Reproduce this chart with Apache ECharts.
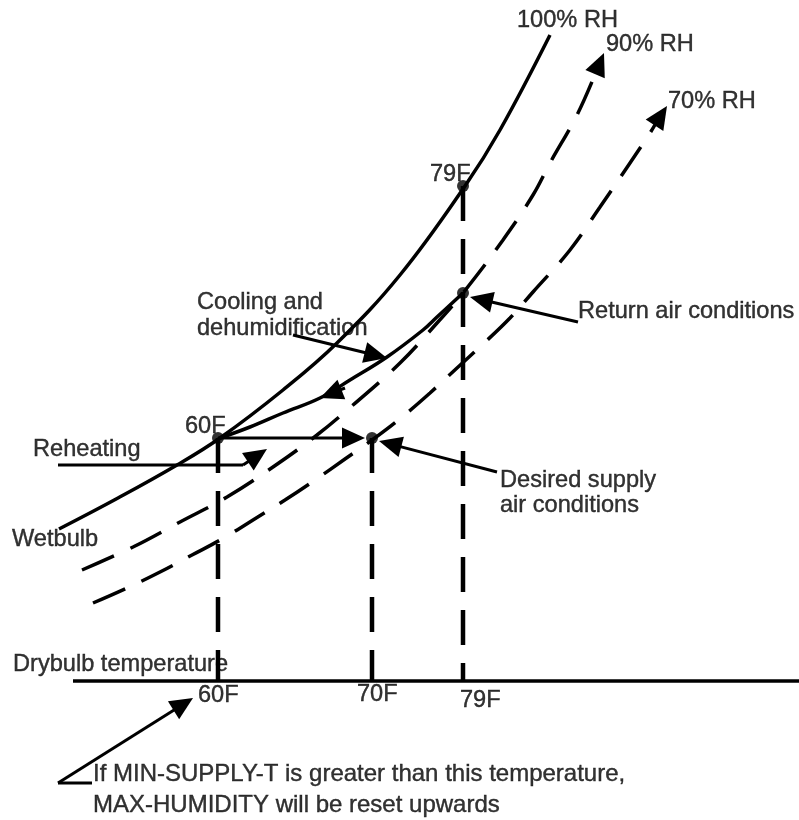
<!DOCTYPE html>
<html>
<head>
<meta charset="utf-8">
<script src="https://cdn.jsdelivr.net/npm/echarts@6/dist/echarts.min.js"></script>
<style>
body { margin: 0; background: #fff; }
#chart { width: 799px; height: 820px; }
</style>
</head>
<body>
<div id="chart"></div>
<script>
// diagram units = reference pixels (x right, y down)
var pts100 = [[59,529],[118,498],[177,465],[220,438],[283,390],[337,343],[400,275],[465,186],[500,130],[550,35]]
var pts90 = [[82,570],[133,547],[180,522],[227,497],[273,467],[317,435],[353,405],[400,363],[437,323],[463,293],[503,240],[533,195],[550,163],[577,115],[596,72]]
var pts70 = [[93,603],[127,588],[160,572],[192,555],[222,539],[253,520],[285,500],[315,480],[345,459],[372,440],[402,417],[430,393],[457,368],[482,345],[510,318],[533,292],[570,250],[600,207],[630,163],[650,133],[656,123]]
var coolPath = [[463,293],[437,317],[423,330],[387,357],[350,380],[320,398],[283,413],[250,427],[220,438]]

var statePoints = [[218,438],[463,186],[463,293],[372,438]]
var dropLines = [
    [[218,438],[218,681]],
    [[372,438],[372,681]],
    [[463,186],[463,681]]
]
var axisLine = [[73,681],[799,681]]
var reheatLeg = [[58,465],[243,465]]
var noteLeg = [[92,783],[58,783]]

// [fromX, fromY, tipX, tipY]
var arrows = [
    [596,72,604,53],
    [656,123,667,106],
    [293,335,387,358],
    [345,388,320,398],
    [218,438,365,438],
    [497,472,379,441],
    [578,322,470,297],
    [243,465,267,449],
    [58,783,193,698]
]

var labelText = ['100% RH','90% RH','70% RH','79F','Cooling and','dehumidification','Return air conditions','60F','Reheating','Wetbulb','Desired supply','air conditions','Drybulb temperature']
var labelPos = [[517,20],[606,44],[668,101],[430,174],[197,302],[197,328],[578,311],[185,426],[33,449],[12,539],[500,480],[500,505],[13,664]]
var tickText = ['60F','70F','79F']
var tickPos = [[198,695],[357,694],[460,700]]
var noteText = ['If MIN-SUPPLY-T is greater than this temperature,','MAX-HUMIDITY will be reset upwards']
var notePos = [[93,774],[93,805]]

var font = '"Liberation Sans", Arial, sans-serif'

function textData(texts, pos) {
    return texts.map(function (t, i) {
        return { name: t, value: pos[i] }
    })
}

function lineSeries(data, width, dash, smooth) {
    return {
        type: 'line',
        data: data,
        smooth: smooth || false,
        symbol: 'none',
        silent: true,
        lineStyle: { color: '#000', width: width, type: dash || 'solid', cap: 'butt' },
        z: 2
    }
}

function renderArrow(params, api) {
    var p0 = api.coord([api.value(0), api.value(1)])
    var p1 = api.coord([api.value(2), api.value(3)])
    var dx = p1[0] - p0[0], dy = p1[1] - p0[1]
    var d = Math.sqrt(dx * dx + dy * dy) || 1
    var ux = dx / d, uy = dy / d
    var L = 23, W = 10.5
    var bx = p1[0] - ux * L, by = p1[1] - uy * L
    var children = [{
        type: 'polygon',
        shape: { points: [p1, [bx - uy * W, by + ux * W], [bx + uy * W, by - ux * W]] },
        style: { fill: '#000' }
    }]
    if (d > L) {
        children.push({
            type: 'line',
            shape: { x1: p0[0], y1: p0[1], x2: bx + ux * 2, y2: by + uy * 2 },
            style: { stroke: '#000', lineWidth: 3 }
        })
    }
    return { type: 'group', children: children }
}

function textLabel(size) {
    return {
        show: true,
        position: 'inside',
        align: 'left',
        verticalAlign: 'middle',
        formatter: '{b}',
        color: '#000',
        textBorderColor: '#000',
        textBorderWidth: 0.4,
        fontSize: size,
        fontFamily: font
    }
}

function textSeries(data, size) {
    return {
        type: 'scatter',
        data: data,
        symbolSize: 1,
        silent: true,
        itemStyle: { color: 'transparent' },
        label: textLabel(size),
        z: 5
    }
}

var option = {
    animation: false,
    backgroundColor: '#fff',
    grid: { left: 0, right: 0, top: 0, bottom: 0 },
    xAxis: { type: 'value', min: 0, max: 799, show: false },
    yAxis: { type: 'value', min: 0, max: 820, inverse: true, show: false },
    series: [
        lineSeries(pts100, 3.5, 'solid', 0.4),
        lineSeries(pts90, 3.5, [35, 18], 0.4),
        lineSeries(pts70, 3.5, [35, 18], 0.4),
        lineSeries(coolPath, 3.5, 'solid', 0.4),
        lineSeries(dropLines[0], 4.5, [35, 18]),
        lineSeries(dropLines[1], 4.5, [35, 18]),
        lineSeries(dropLines[2], 4.5, [35, 18]),
        lineSeries(axisLine, 3.5),
        lineSeries(reheatLeg, 3),
        lineSeries(noteLeg, 3),
        {
            type: 'custom',
            renderItem: renderArrow,
            data: arrows,
            silent: true,
            z: 3
        },
        {
            type: 'scatter',
            data: statePoints,
            symbolSize: 12,
            itemStyle: { color: '#000' },
            z: 4
        },
        textSeries(textData(labelText, labelPos).concat(textData(tickText, tickPos)), 23.6),
        textSeries(textData(noteText, notePos), 24)
    ]
}

echarts.init(document.getElementById('chart')).setOption(option)
</script>
</body>
</html>
